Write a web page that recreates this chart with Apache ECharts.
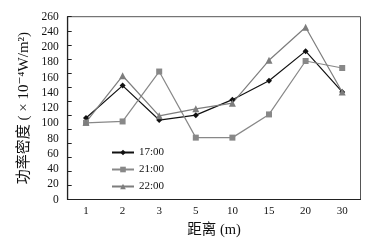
<!DOCTYPE html>
<html>
<head>
<meta charset="utf-8">
<script src="https://cdn.jsdelivr.net/npm/echarts@6/dist/echarts.min.js"></script>
<style>html,body{margin:0;padding:0;background:#fff;}#c{width:388px;height:242px;}</style>
</head>
<body>
<div id="c"></div>
<script>
const categories = ['1', '2', '3', '5', '10', '15', '20', '30'];
const s1700 = [116, 162, 113, 120, 142, 169, 211, 153];
const s2100 = [109, 111, 182, 88, 88, 121, 197, 187];
const s2200 = [110, 176, 119, 129, 137, 198, 245, 153];
const yTickLabels = ['0', '20', '40', '60', '80', '100', '120', '140', '160', '180', '200', '240', '260'];

const serif = '"Liberation Serif", "DejaVu Serif", "Noto Sans CJK SC", serif';
const chart = echarts.init(document.getElementById('c'));
chart.setOption({
  animation: false,
  backgroundColor: '#fff',
  grid: { left: 67.7, right: 27.5, top: 16.7, bottom: 37.7, show: true, borderColor: '#555', borderWidth: 1 },
  legend: {
    orient: 'vertical', left: 106, top: 142, itemWidth: 22, itemHeight: 7, itemGap: 6,
    textStyle: { fontFamily: serif, fontSize: 11, color: '#111' },
    data: ['17:00', '21:00', '22:00']
  },
  xAxis: {
    type: 'category', data: categories, boundaryGap: true,
    name: '距离 (m)', nameLocation: 'middle', nameGap: 23,
    nameTextStyle: { fontFamily: serif, fontSize: 14.5, color: '#111' },
    axisLine: { lineStyle: { color: '#222', width: 1.2 } },
    axisTick: { inside: true, length: 4, lineStyle: { color: '#222' } },
    axisLabel: { fontFamily: serif, fontSize: 11, color: '#111', margin: 6 }
  },
  yAxis: [{
    type: 'value', min: 0, max: 260, interval: 20,
    name: '功率密度 ( × 10⁻⁴W/m²)', nameLocation: 'middle', nameGap: 36,
    nameTextStyle: { fontFamily: serif, fontSize: 15, color: '#111' },
    axisLine: { show: true, lineStyle: { color: '#222', width: 1.2 } },
    axisTick: { show: true, inside: true, length: 4, lineStyle: { color: '#222' } },
    axisLabel: { show: false },
    splitLine: { show: false }
  }, {
    type: 'value', min: 0, max: 240, interval: 20, position: 'left',
    axisLine: { show: false }, axisTick: { show: false }, splitLine: { show: false },
    axisLabel: {
      fontFamily: serif, fontSize: 11.5, color: '#111', margin: 9,
      formatter: function (v) { return yTickLabels[Math.round(v / 20)]; }
    }
  }],
  series: [
    { name: '17:00', type: 'line', data: s1700, yAxisIndex: 0, symbol: 'diamond', symbolSize: 6,
      lineStyle: { color: '#111', width: 1.2 }, itemStyle: { color: '#111' } },
    { name: '21:00', type: 'line', data: s2100, yAxisIndex: 0, symbol: 'rect', symbolSize: 6,
      lineStyle: { color: '#888', width: 1.2 }, itemStyle: { color: '#888' } },
    { name: '22:00', type: 'line', data: s2200, yAxisIndex: 0, symbol: 'triangle', symbolSize: 7,
      lineStyle: { color: '#7d7d7d', width: 1.2 }, itemStyle: { color: '#7d7d7d' } }
  ]
});
</script>
</body>
</html>
